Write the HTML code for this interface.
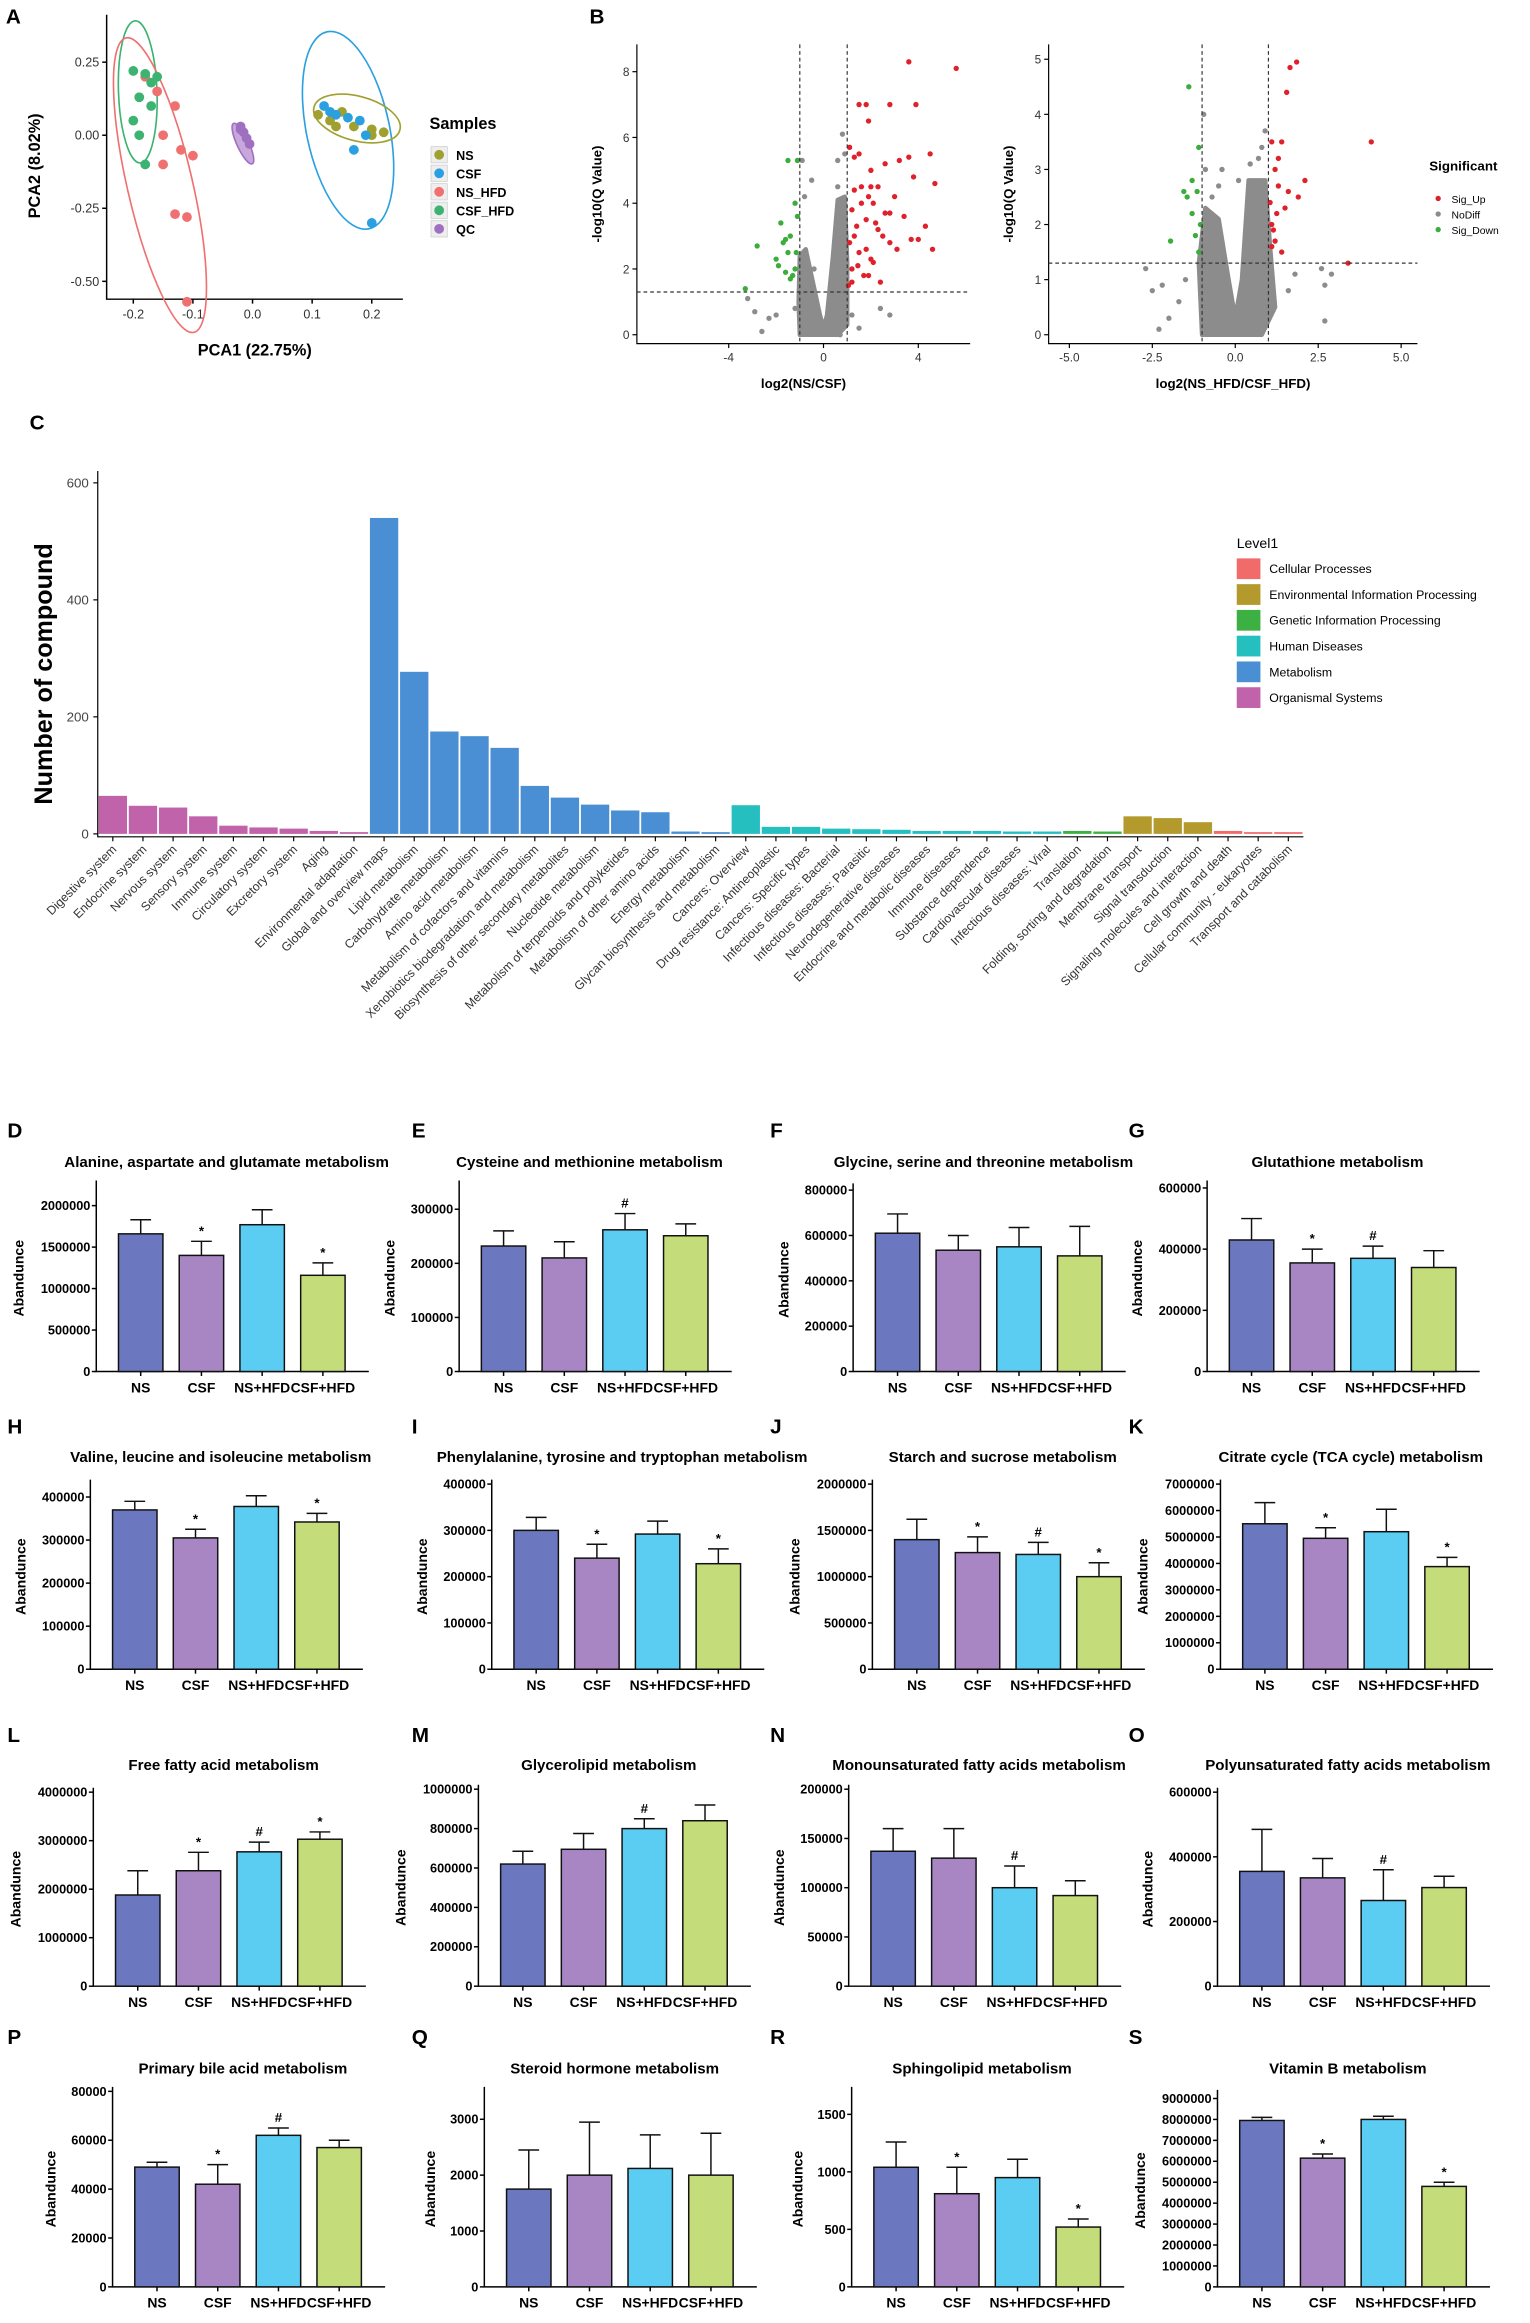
<!DOCTYPE html>
<html><head><meta charset="utf-8">
<style>
html,body{margin:0;padding:0;background:#fff;}
svg{display:block;font-family:"Liberation Sans",Arial,sans-serif;}
</style></head>
<body>
<svg id="fig" width="1530" height="2323" viewBox="0 0 1033 1568.4" preserveAspectRatio="none" xmlns="http://www.w3.org/2000/svg">
<rect x="0" y="0" width="1033" height="1568.4" fill="#fff"/>
<g id="gA"></g>
<g id="gB"></g>
<g id="gC"></g>
<g id="gBars"></g>
</svg>
<script>
// ---------- Panel A data ----------
const pcaNS = [[0.11,0.07],[0.13,0.05],[0.15,0.08],[0.17,0.03],[0.2,0.0],[0.2,0.02],[0.22,0.01],[0.14,0.03]];
const pcaCSF = [[0.12,0.1],[0.14,0.07],[0.16,0.06],[0.18,0.05],[0.19,0.0],[0.17,-0.05],[0.2,-0.3],[0.13,0.08]];
const pcaNSHFD = [[-0.18,0.2],[-0.16,0.15],[-0.13,0.1],[-0.15,0.0],[-0.12,-0.05],[-0.1,-0.07],[-0.15,-0.1],[-0.13,-0.27],[-0.11,-0.28],[-0.11,-0.57]];
const pcaCSFHFD = [[-0.2,0.22],[-0.18,0.21],[-0.19,0.13],[-0.17,0.18],[-0.2,0.05],[-0.19,0.0],[-0.18,-0.1],[-0.17,0.1],[-0.16,0.2]];
const pcaQC = [[-0.02,0.03],[-0.015,0.01],[-0.01,-0.01],[-0.005,-0.03],[-0.02,0.02]];
const pcaXTicks = [-0.2,-0.1,0.0,0.1,0.2];
const pcaYTicks = [0.25,0.0,-0.25,-0.5];
const pcaYLabels = ["0.25","0.00","-0.25","-0.50"];

// ---------- Panel B data ----------
const volLRed = [[1.2,2],[1.3,3],[1.5,2.5],[1.6,4],[1.8,3.5],[2,5],[2.1,2.2],[2.3,4.5],[2.5,3],[2.6,5.2],[2.8,2.8],[3,4.2],[3.2,5.3],[3.4,3.6],[3.6,5.4],[3.8,4.8],[4,2.9],[4.3,3.3],[4.5,5.5],[4.7,4.6],[5.6,8.1],[3.6,8.3],[1.5,7],[1.8,7],[2.8,7],[3.9,7],[1.9,6.5],[1.1,5.7],[1.3,5.4],[1.5,5.5],[2.4,1.6],[1.9,1.8],[3.1,2.6],[1.2,3.8],[1.6,4.5],[2.2,3.4],[3.7,2.9],[4.6,2.6],[2.0,4.5],[1.3,4.4],[1.8,2.6],[2.6,3.7],[1.1,2.8],[1.4,3.3],[1.9,4.2],[2.3,3.2],[1.05,1.5],[1.2,1.6],[1.7,1.8],[2.0,2.3],[1.45,2.1],[2.8,3.7],[2.1,4.0]];
const volLGreen = [[-1.2,2],[-1.5,2.5],[-1.8,3.4],[-1.4,3],[-2,2.3],[-1.1,3.6],[-1.3,1.8],[-2.8,2.7],[-1.6,1.9],[-1.9,2.1],[-1.5,5.3],[-1.2,4.0],[-1.7,2.8],[-1.15,2.5],[-1.4,1.7],[-1.6,2.9],[-3.3,1.4],[-1.1,5.3]];
const volLGrey = [[-0.5,0.2],[-0.3,0.5],[0.6,0.3],[-0.7,0.6],[0.5,1.8],[-0.8,1.5],[-0.9,2.2],[-0.6,1.1],[0.3,1.5],[0.9,5.5],[0.8,6.1],[-0.9,5.3],[-0.8,4.2],[-1.2,0.8],[-2.0,0.6],[-2.3,0.5],[-3.2,1.1],[-2.6,0.1],[-2.9,0.7],[1.2,0.6],[1.5,0.2],[2.4,0.8],[2.8,0.6],[0.6,4.5],[-0.4,2.0],[0.95,3.0],[-1.0,1.0],[0.7,0.0],[-0.7,0.1],[-0.5,4.7],[0.6,5.3]];
const volLCore = [[-1.0,0],[-1.05,1.0],[-1.0,2.4],[-0.75,2.6],[-0.45,1.6],[-0.15,0.6],[0,0.2],[0.15,0.6],[0.4,2.4],[0.6,4.1],[0.9,4.2],[1.0,2.2],[1.0,0.3],[0.6,0],[-0.6,0]];
const volRRed = [[1.1,2],[1.2,3],[1.3,3.2],[1.4,3.5],[1.5,2.3],[1.6,2.6],[1.85,4.95],[1.65,4.85],[1.55,4.4],[2.1,2.8],[1.9,2.5],[1.2,1.7],[1.1,3.5],[4.1,3.5],[3.4,1.3],[1.3,2.7],[1.05,2.4],[1.25,2.2],[1.4,1.5],[1.1,1.6],[1.15,1.9]];
const volRGreen = [[-1.2,1.8],[-1.3,2.2],[-1.4,4.5],[-1.45,2.5],[-1.55,2.6],[-1.1,3.4],[-1.15,2.6],[-1.95,1.7],[-1.05,2.0],[-1.3,2.8],[-1.1,1.5]];
const volRGrey = [[-0.9,3.0],[-0.95,4.0],[-0.7,2.5],[0.8,3.4],[0.9,3.7],[0.7,3.2],[0.45,3.1],[-2.7,1.2],[-2.2,0.9],[-2.5,0.8],[-2.0,0.3],[-1.7,0.6],[-1.5,1.0],[-2.3,0.1],[1.6,0.8],[2.7,0.9],[2.9,1.1],[2.6,1.2],[2.7,0.25],[1.8,1.1],[-0.4,3.0],[-0.5,2.7],[0.1,2.8]];
const volRCore = [[-1.0,0],[-1.1,1.3],[-0.9,2.3],[-0.5,2.1],[-0.2,1.0],[0,0.3],[0.2,1.0],[0.4,2.8],[0.9,2.8],[1.05,1.6],[1.2,0.5],[0.8,0],[-0.8,0]];

// ---------- Panel C data ----------
const keggCats = ["Digestive system","Endocrine system","Nervous system","Sensory system","Immune system","Circulatory system","Excretory system","Aging","Environmental adaptation","Global and overview maps","Lipid metabolism","Carbohydrate metabolism","Amino acid metabolism","Metabolism of cofactors and vitamins","Xenobiotics biodegradation and metabolism","Biosynthesis of other secondary metabolites","Nucleotide metabolism","Metabolism of terpenoids and polyketides","Metabolism of other amino acids","Energy metabolism","Glycan biosynthesis and metabolism","Cancers: Overview","Drug resistance: Antineoplastic","Cancers: Specific types","Infectious diseases: Bacterial","Infectious diseases: Parasitic","Neurodegenerative diseases","Endocrine and metabolic diseases","Immune diseases","Substance dependence","Cardiovascular diseases","Infectious diseases: Viral","Translation","Folding, sorting and degradation","Membrane transport","Signal transduction","Signaling molecules and interaction","Cell growth and death","Cellular community - eukaryotes","Transport and catabolism"];
const keggValues = [65,48,45,30,14,11,9,5,3,540,277,175,167,147,82,62,50,40,37,4,3,49,12,12,9,8,7,5,5,5,4,4,5,4,30,27,20,5,3,3];
const keggLevel = ["O","O","O","O","O","O","O","O","O","M","M","M","M","M","M","M","M","M","M","M","M","H","H","H","H","H","H","H","H","H","H","H","G","G","E","E","E","C","C","C"];
const keggYTicks = [0,200,400,600];
const levelNames = ["Cellular Processes","Environmental Information Processing","Genetic Information Processing","Human Diseases","Metabolism","Organismal Systems"];
const levelKeys = ["C","E","G","H","M","O"];

// ---------- Bar panels D-S data ----------
const groups = ["NS","CSF","NS+HFD","CSF+HFD"];
const barTitles = ["Alanine, aspartate and glutamate metabolism","Cysteine and methionine metabolism","Glycine, serine and threonine metabolism","Glutathione metabolism","Valine, leucine and isoleucine metabolism","Phenylalanine, tyrosine and tryptophan metabolism","Starch and sucrose metabolism","Citrate cycle (TCA cycle) metabolism","Free fatty acid metabolism","Glycerolipid metabolism","Monounsaturated fatty acids metabolism","Polyunsaturated fatty acids metabolism","Primary bile acid metabolism","Steroid hormone metabolism","Sphingolipid metabolism","Vitamin B metabolism"];
const barLetters = ["D","E","F","G","H","I","J","K","L","M","N","O","P","Q","R","S"];
const barMeans = [
 [1660000,1400000,1770000,1160000],
 [232000,210000,262000,251000],
 [610000,535000,550000,510000],
 [430000,355000,370000,340000],
 [370000,305000,378000,342000],
 [300000,240000,292000,228000],
 [1400000,1260000,1240000,1000000],
 [5500000,4950000,5200000,3880000],
 [1880000,2380000,2770000,3030000],
 [620000,695000,800000,840000],
 [137000,130000,100000,92000],
 [355000,335000,265000,305000],
 [49000,42000,62000,57000],
 [1750,2000,2120,2000],
 [1040,810,950,520],
 [7950000,6150000,8000000,4800000]];
const barErrors = [
 [170000,170000,180000,150000],
 [28000,30000,30000,22000],
 [85000,65000,85000,130000],
 [70000,45000,40000,55000],
 [20000,20000,25000,20000],
 [28000,30000,28000,32000],
 [220000,170000,130000,150000],
 [800000,400000,850000,350000],
 [500000,380000,200000,150000],
 [65000,80000,50000,80000],
 [23000,30000,22000,15000],
 [130000,60000,95000,35000],
 [2000,8000,3000,3000],
 [700,950,600,750],
 [220,230,160,70],
 [150000,200000,150000,200000]];
const barMarks = [
 ["","*","","*"],["","","#",""],["","","",""],["","*","#",""],
 ["","*","","*"],["","*","","*"],["","*","#","*"],["","*","","*"],
 ["","*","#","*"],["","","#",""],["","","#",""],["","","#",""],
 ["","*","#",""],["","","",""],["","*","","*"],["","*","","*"]];
const barTicks = [
 [0,500000,1000000,1500000,2000000],
 [0,100000,200000,300000],
 [0,200000,400000,600000,800000],
 [0,200000,400000,600000],
 [0,100000,200000,300000,400000],
 [0,100000,200000,300000,400000],
 [0,500000,1000000,1500000,2000000],
 [0,1000000,2000000,3000000,4000000,5000000,6000000,7000000],
 [0,1000000,2000000,3000000,4000000],
 [0,200000,400000,600000,800000,1000000],
 [0,50000,100000,150000,200000],
 [0,200000,400000,600000],
 [0,20000,40000,60000,80000],
 [0,1000,2000,3000],
 [0,500,1000,1500],
 [0,1000000,2000000,3000000,4000000,5000000,6000000,7000000,8000000,9000000]];
const barYMax = [2250000,345000,810000,610000,430000,400000,2000000,7000000,4000000,1000000,200000,600000,80000,3500,1700,9200000];

// ---------- helpers ----------
const NS_ = "http://www.w3.org/2000/svg";
function mk(parent, tag, attrs, text){
  const e = document.createElementNS(NS_, tag);
  for (const k in attrs) e.setAttribute(k, attrs[k]);
  if (text !== undefined) e.textContent = text;
  parent.appendChild(e);
  return e;
}

// ================= Panel A =================
(function(){
  const g = document.getElementById('gA');
  const sx = v => 170.5 + v*402.5;
  const sy = v => 91.3 - v*197.3;
  let t = mk(g,'text',{x:4,y:16,'font-size':14,'font-weight':'bold'},'A');
   
  let ax = mk(g,'path',{d:'M72 10 V202 H272',fill:'none',stroke:'#000','stroke-width':1});
   
  pcaXTicks.forEach(v=>{
    mk(g,'line',{x1:sx(v),x2:sx(v),y1:202,y2:205,stroke:'#000'});
    let tl = mk(g,'text',{x:sx(v),y:215,'font-size':8.5,'text-anchor':'middle',fill:'#333'},v.toFixed(1));
     
  });
  pcaYTicks.forEach((v,i)=>{
    mk(g,'line',{x1:69,x2:72,y1:sy(v),y2:sy(v),stroke:'#000'});
    let tl = mk(g,'text',{x:67,y:sy(v)+3,'font-size':8.5,'text-anchor':'end',fill:'#333'},pcaYLabels[i]);
     
  });
  t = mk(g,'text',{x:172,y:240,'font-size':11,'font-weight':'bold','text-anchor':'middle'},'PCA1 (22.75%)');
   
  t = mk(g,'text',{x:0,y:0,'font-size':11,'font-weight':'bold','text-anchor':'middle',transform:'translate(27,112) rotate(-90)'},'PCA2 (8.02%)');
   
  const ells = [
    {cx:93,cy:62,rx:13,ry:48,rot:-2,c:'#3cb371',n:'ellipse-csf-hfd'},
    {cx:108,cy:125,rx:22,ry:102,rot:-13,c:'#f07070',n:'ellipse-ns-hfd'},
    {cx:235,cy:88,rx:28,ry:68,rot:-12,c:'#2aa0e0',n:'ellipse-csf'},
    {cx:241,cy:80,rx:30,ry:15,rot:15,c:'#a0a030',n:'ellipse-ns'},
    {cx:164,cy:97,rx:4,ry:15,rot:-25,c:'#a070c0',n:'ellipse-qc'}];
  ells.forEach(e=>{
    const el = mk(g,'ellipse',{cx:e.cx,cy:e.cy,rx:e.rx,ry:e.ry,fill:e.n==='ellipse-qc'?'#c8a8dc':'none',stroke:e.c,'stroke-width':1.1,transform:`rotate(${e.rot} ${e.cx} ${e.cy})`});
     
  });
  const series = [[pcaNS,'#a0a030','pca-point-ns'],[pcaCSF,'#2aa0e0','pca-point-csf'],[pcaNSHFD,'#f07070','pca-point-ns-hfd'],[pcaCSFHFD,'#3cb371','pca-point-csf-hfd'],[pcaQC,'#a070c0','pca-point-qc']];
  series.forEach(s=>{
    s[0].forEach(p=>{
      const c = mk(g,'circle',{cx:sx(p[0]),cy:sy(p[1]),r:3.3,fill:s[1]});
      
      
    });
  });
  t = mk(g,'text',{x:290,y:87,'font-size':11,'font-weight':'bold'},'Samples');
   
  const leg = [['NS','#a0a030'],['CSF','#2aa0e0'],['NS_HFD','#f07070'],['CSF_HFD','#3cb371'],['QC','#a070c0']];
  leg.forEach((l,i)=>{
    const y = 105 + i*12.5;
    const le = mk(g,'g',{});
     
    mk(le,'rect',{x:291,y:y-6,width:11,height:11,fill:'#eee',stroke:'#ccc','stroke-width':0.5});
    mk(le,'circle',{cx:296.5,cy:y-0.5,r:3.3,fill:l[1]});
    mk(le,'text',{x:308,y:y+3,'font-size':8.5,'font-weight':'bold'},l[0]);
  });
})();

// ================= Panel B =================
function volcano(g, o){
  const sx = v => o.x0 + v*o.kx;
  const sy = v => o.y0 - v*o.ky;
  const ax = mk(g,'path',{d:`M${o.left} ${o.top} V${o.bottom} H${o.right}`,fill:'none',stroke:'#000','stroke-width':0.8});
   
  o.xt.forEach((v,i)=>{
    mk(g,'line',{x1:sx(v),x2:sx(v),y1:o.bottom,y2:o.bottom+3,stroke:'#000','stroke-width':0.8});
    const tl = mk(g,'text',{x:sx(v),y:o.bottom+12,'font-size':8,'text-anchor':'middle',fill:'#333'},o.xl[i]);
     
  });
  o.yt.forEach(v=>{
    mk(g,'line',{x1:o.left-3,x2:o.left,y1:sy(v),y2:sy(v),stroke:'#000','stroke-width':0.8});
    const tl = mk(g,'text',{x:o.left-5,y:sy(v)+3,'font-size':8,'text-anchor':'end',fill:'#333'},String(v));
     
  });
  const d = o.core.map((p,i)=>(i?'L':'M')+sx(p[0]).toFixed(1)+' '+sy(p[1]).toFixed(1)).join(' ')+' Z';
  const core = mk(g,'path',{d:d,fill:'#8c8c8c',stroke:'#8c8c8c','stroke-width':3,'stroke-linejoin':'round'});
   
  o.grey.forEach(p=>{ const c=mk(g,'circle',{cx:sx(p[0]),cy:sy(p[1]),r:1.8,fill:'#8c8c8c'});   });
  o.red.forEach(p=>{ const c=mk(g,'circle',{cx:sx(p[0]),cy:sy(p[1]),r:1.8,fill:'#e0202a'});   });
  o.green.forEach(p=>{ const c=mk(g,'circle',{cx:sx(p[0]),cy:sy(p[1]),r:1.8,fill:'#3aad3a'});   });
  [-1,1].forEach(v=>{ const l=mk(g,'line',{x1:sx(v),x2:sx(v),y1:o.top,y2:o.bottom,stroke:'#333','stroke-dasharray':'2.5,2','stroke-width':0.8});   });
  const hl = mk(g,'line',{x1:o.left,x2:o.right,y1:sy(1.3),y2:sy(1.3),stroke:'#333','stroke-dasharray':'2.5,2','stroke-width':0.8});
   
  let t = mk(g,'text',{x:(o.left+o.right)/2,y:o.bottom+30,'font-size':9,'font-weight':'bold','text-anchor':'middle'},o.xtitle);
   
  t = mk(g,'text',{x:0,y:0,'font-size':9,'font-weight':'bold','text-anchor':'middle',transform:`translate(${o.left-24},${(o.top+o.bottom)/2}) rotate(-90)`},'-log10(Q Value)');
   
}
(function(){
  const g = document.getElementById('gB');
  let t = mk(g,'text',{x:398,y:16,'font-size':14,'font-weight':'bold'},'B');
   
  volcano(g,{name:'volcano-ns-csf',x0:556,kx:16,y0:226,ky:22.2,left:430,right:655,top:30,bottom:232,
    xt:[-4,0,4],xl:['-4','0','4'],yt:[0,2,4,6,8],xtitle:'log2(NS/CSF)',
    grey:volLGrey,red:volLRed,green:volLGreen,core:volLCore});
  volcano(g,{name:'volcano-nshfd-csfhfd',x0:834,kx:22.4,y0:226,ky:37.2,left:708,right:957,top:30,bottom:232,
    xt:[-5,-2.5,0,2.5,5],xl:['-5.0','-2.5','0.0','2.5','5.0'],yt:[0,1,2,3,4,5],xtitle:'log2(NS_HFD/CSF_HFD)',
    grey:volRGrey,red:volRRed,green:volRGreen,core:volRCore});
  t = mk(g,'text',{x:965,y:115,'font-size':9,'font-weight':'bold'},'Significant');
   
  [['Sig_Up','#e0202a'],['NoDiff','#8c8c8c'],['Sig_Down','#3aad3a']].forEach((l,i)=>{
    const le = mk(g,'g',{});
     
    mk(le,'circle',{cx:971,cy:134+i*10.5,r:1.8,fill:l[1]});
    mk(le,'text',{x:980,y:137+i*10.5,'font-size':7},l[0]);
  });
})();

// ================= Panel C =================
(function(){
  const g = document.getElementById('gC');
  const colors = {C:'#f26b6b',E:'#b49a2c',G:'#3cb043',H:'#25bfbf',M:'#4a8fd4',O:'#c063ab'};
  const y0 = 563, k = (563-326)/600;
  const sy = v => y0 - v*k;
  const left = 66, right = 880, n = keggCats.length, step = (right-left)/n;
  const sx = i => left + step*(i+0.5);
  let t = mk(g,'text',{x:20,y:290,'font-size':14,'font-weight':'bold'},'C');
   
  const ax = mk(g,'path',{d:`M${left} 318 V${y0+2} H${right}`,fill:'none',stroke:'#000','stroke-width':0.8});
   
  keggYTicks.forEach(v=>{
    mk(g,'line',{x1:left-3,x2:left,y1:sy(v),y2:sy(v),stroke:'#000','stroke-width':0.8});
    const tl = mk(g,'text',{x:left-6,y:sy(v)+3,'font-size':9,'text-anchor':'end',fill:'#444'},String(v));
     
  });
  t = mk(g,'text',{x:0,y:0,'font-size':17,'font-weight':'bold','text-anchor':'middle',transform:'translate(35,455) rotate(-90)'},'Number of compound');
   
  keggValues.forEach((v,i)=>{
    const b = mk(g,'rect',{x:sx(i)-step*0.47,y:sy(v),width:step*0.94,height:y0-sy(v),fill:colors[keggLevel[i]]});
    
    
    mk(g,'line',{x1:sx(i),x2:sx(i),y1:y0+2,y2:y0+5,stroke:'#000','stroke-width':0.8});
    const tl = mk(g,'text',{x:0,y:0,'font-size':8.3,'text-anchor':'end',fill:'#333',transform:`translate(${sx(i)+3},${y0+11}) rotate(-45)`},keggCats[i]);
    
    
  });
  t = mk(g,'text',{x:835,y:370,'font-size':9.5},'Level1');
   
  levelKeys.forEach((key,i)=>{
    const le = mk(g,'g',{});
     
    const y = 377 + i*17.4;
    mk(le,'rect',{x:835,y:y,width:16,height:14,fill:colors[key]});
    mk(le,'text',{x:857,y:y+10,'font-size':8.3},levelNames[i]);
  });
})();

// ================= Bar panels D-S =================
(function(){
  const G = document.getElementById('gBars');
  const fills = ['#6b78bf','#a886c4','#5bcdf2','#c5dc7a'];
  const cols = [[95,340,606,845],[91,362,619,854],[93,353,603,852],[106,357,605,852]];
  const rowY0 = [926,1127,1341,1544];
  const rowTitleY = [788,987,1195,1400];
  const rowLetterY = [768,968,1176,1380];
  const rowTop = [800,1000,1208,1412];
  const colLetterX = [5,278,520,762];
  const fmt = v => String(v);
  for (let idx=0; idx<16; idx++){
    const r = Math.floor(idx/4), c = idx%4;
    const g = mk(G,'g',{});
    
    
    const x0 = cols[r][c] - 30;
    const y0 = rowY0[r];
    const ticks = barTicks[idx];
    const vmax = Math.max(ticks[ticks.length-1], barYMax[idx]);
    const top = rowTop[r] + (idx===2||idx===4||idx===5||idx===6||idx===7||idx===8||idx===11||idx===15 ? 2 : 0);
    const k = (y0 - top)/vmax;
    const sy = v => y0 - v*k;
    const sx = i => x0 + 30 + i*41;
    let t = mk(g,'text',{x:colLetterX[c],y:rowLetterY[r],'font-size':14,'font-weight':'bold'},barLetters[idx]);
     
    t = mk(g,'text',{x:x0+88,y:rowTitleY[r],'font-size':10.2,'font-weight':'bold','text-anchor':'middle'},barTitles[idx]);
     
    const ax = mk(g,'path',{d:`M${x0} ${top-3} V${y0} H${x0+184}`,fill:'none',stroke:'#000','stroke-width':1});
     
    let maxLen = 0;
    ticks.forEach(v=>{
      mk(g,'line',{x1:x0-3,x2:x0,y1:sy(v),y2:sy(v),stroke:'#000','stroke-width':1});
      const s = fmt(v); maxLen = Math.max(maxLen, s.length);
      const tl = mk(g,'text',{x:x0-4,y:sy(v)+3,'font-size':8.6,'font-weight':'bold','text-anchor':'end'},s);
       
    });
    t = mk(g,'text',{x:0,y:0,'font-size':9.5,'font-weight':'bold','text-anchor':'middle',transform:`translate(${x0-maxLen*5.3-12},${(y0+top)/2}) rotate(-90)`},'Abandunce');
     
    barMeans[idx].forEach((v,i)=>{
      const e = barErrors[idx][i];
      const b = mk(g,'rect',{x:sx(i)-15,y:sy(v),width:30,height:y0-sy(v),fill:fills[i],stroke:'#111','stroke-width':1});
      
      
      const eb = mk(g,'path',{d:`M${sx(i)} ${sy(v)} V${sy(v+e)} M${sx(i)-7} ${sy(v+e)} H${sx(i)+7}`,stroke:'#111','stroke-width':1,fill:'none'});
      
      
      if (barMarks[idx][i]){
        const m = mk(g,'text',{x:sx(i),y:sy(v+e)-4,'font-size':9,'font-weight':'bold','text-anchor':'middle'},barMarks[idx][i]);
        
        
      }
      mk(g,'line',{x1:sx(i),x2:sx(i),y1:y0,y2:y0+3,stroke:'#000','stroke-width':1});
      const tl = mk(g,'text',{x:sx(i),y:y0+14,'font-size':9.4,'font-weight':'bold','text-anchor':'middle'},groups[i]);
      
      
    });
  }
})();
</script>
</body></html>
